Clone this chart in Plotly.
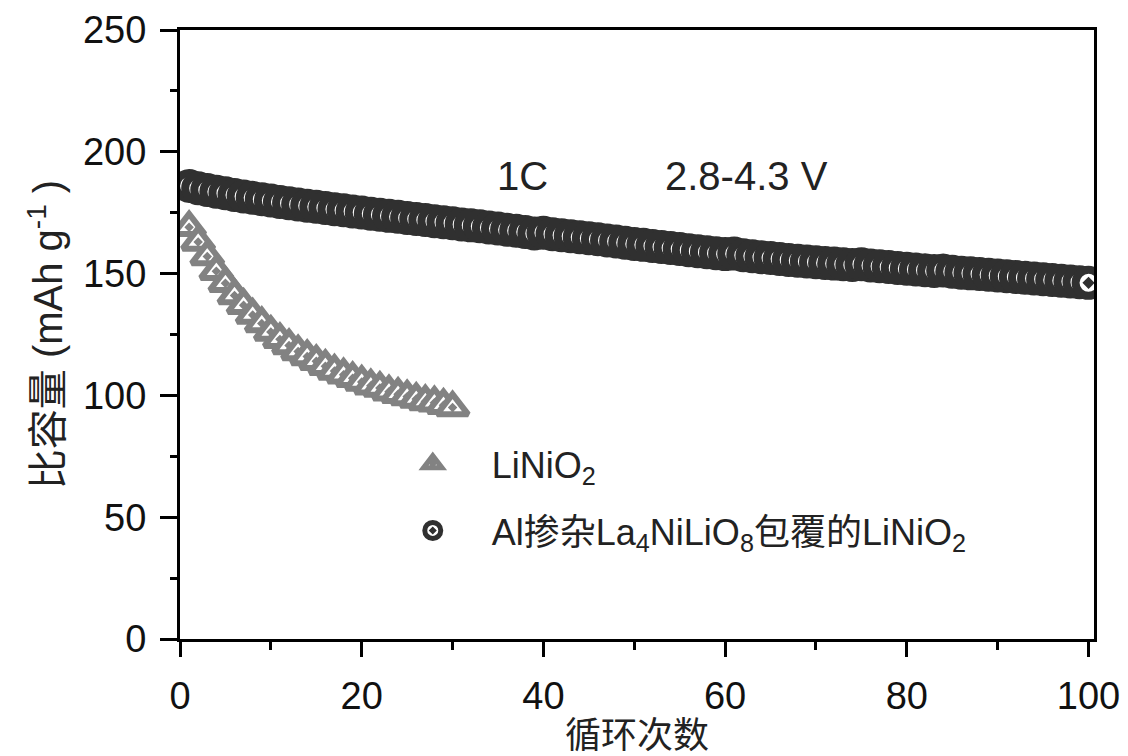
import plotly.graph_objects as go

# ---- data ----
cycles_linio2 = list(range(1, 31))
cap_linio2 = [169, 163, 157, 151, 146, 141, 137, 133, 129.5, 126,
              123, 120.5, 118, 116, 114, 112, 110, 108.5, 107, 105.5,
              104, 103, 101.5, 100.5, 99.5, 98.5, 97.5, 97, 96, 95]

cycles_coated = list(range(1, 101))
cap_coated = [186, 185, 184.3, 183.6, 183, 182.3, 181.7, 181.1, 180.5, 180,
              179.4, 178.9, 178.4, 177.9, 177.4, 176.9, 176.4, 176, 175.5, 175.1,
              174.6, 174.2, 173.7, 173.3, 172.8, 172.4, 172, 171.5, 171.1, 170.7,
              170.2, 169.8, 169.4, 168.9, 168.5, 168, 167.6, 167.1, 166.5, 166.8,
              166.2, 165.7, 165.3, 164.9, 164.5, 164.1, 163.6, 163.2, 162.7, 162.2,
              161.8, 161.3, 160.9, 160.5, 160.1, 159.6, 159.2, 158.8, 158.4, 158.0,
              158.2, 157.5, 157.1, 156.7, 156.4, 156.0, 155.6, 155.3, 155.0, 154.7,
              154.4, 154.1, 153.8, 153.5, 153.8, 153.3, 153.0, 152.7, 152.3, 152.0,
              151.7, 151.4, 151.1, 151.3, 150.8, 150.4, 150.1, 149.8, 149.5, 149.2,
              148.9, 148.6, 148.3, 148.0, 147.7, 147.4, 147.1, 146.8, 146.5, 146.2]

name_linio2 = "LiNiO<sub>2</sub>"
name_coated = "Al掺杂La<sub>4</sub>NiLiO<sub>8</sub>包覆的LiNiO<sub>2</sub>"

x_tickvals = [0, 20, 40, 60, 80, 100]
y_tickvals = [0, 50, 100, 150, 200, 250]

x_title = "循环次数"
y_title = "比容量 (mAh g<sup>-1</sup> )"

FONT = "Liberation Sans, Arial, Noto Sans CJK SC, sans-serif"
CJK = "Noto Sans CJK SC, Liberation Sans, sans-serif"

fig = go.Figure()
fig.add_trace(go.Scatter(
    x=cycles_linio2, y=cap_linio2, mode="markers", name=name_linio2,
    legendgroup="a",
    marker=dict(symbol="triangle-up-dot", size=27, color="white",
                line=dict(color="#828282", width=6)),
))
fig.add_trace(go.Scatter(
    x=cycles_coated, y=cap_coated, mode="markers", name=name_coated,
    legendgroup="b",
    marker=dict(symbol="circle-dot", size=26, color="white",
                line=dict(color="#303030", width=8)),
))

axis_common = dict(
    showline=True, linewidth=3, linecolor="black", mirror=True,
    ticks="outside", tickwidth=3, tickcolor="black",
    showgrid=False, zeroline=False, automargin=False,
    tickfont=dict(family=FONT, size=38, color="#111"),
)

fig.update_xaxes(
    range=[0, 100.6], tickvals=x_tickvals, ticklen=15,
    minor=dict(dtick=10, tick0=0, ticks="outside", ticklen=8, tickwidth=3, tickcolor="black"),
    ticklabelstandoff=6,
    **axis_common,
)
fig.update_yaxes(
    range=[0, 250], tickvals=y_tickvals, ticklen=17,
    minor=dict(dtick=25, tick0=0, ticks="outside", ticklen=7, tickwidth=3, tickcolor="black"),
    title=dict(text=y_title, font=dict(family=FONT, size=40, color="#222"), standoff=8),
    ticklabelstandoff=6,
    **axis_common,
)

fig.update_layout(annotations=[
    dict(x=37.7, y=190, xref="x", yref="y", showarrow=False, text="1C",
         font=dict(family=FONT, size=40, color="#222")),
    dict(x=62.4, y=190, xref="x", yref="y", showarrow=False, text="2.8-4.3 V",
         font=dict(family=FONT, size=40, color="#222")),
    dict(x=0.5, y=-0.152, xref="paper", yref="paper", showarrow=False, text=x_title,
         xanchor="center", yanchor="middle",
         font=dict(family=CJK, size=36, color="#222")),
])

fig.update_layout(
    width=1128, height=756,
    margin=dict(l=172, r=42, t=22, b=125),
    paper_bgcolor="white", plot_bgcolor="white",
    showlegend=True,
    legend=dict(
        x=0.212, y=0.337, xanchor="left", yanchor="top",
        bgcolor="rgba(0,0,0,0)", borderwidth=0,
        font=dict(family=FONT, size=36, color="#222"),
        tracegroupgap=17, itemwidth=108,
    ),
)

fig.write_html("out.html")
